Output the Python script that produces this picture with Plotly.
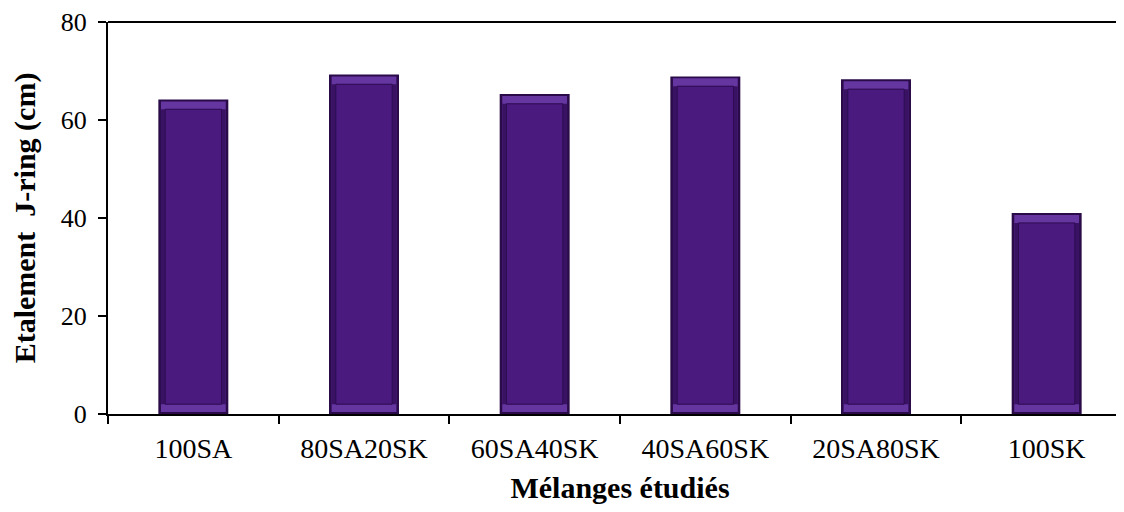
import plotly.graph_objects as go

categories = ["100SA", "80SA20SK", "60SA40SK", "40SA60SK", "20SA80SK", "100SK"]
values = [64.2, 69.3, 65.3, 68.9, 68.3, 41.0]

# bevel insets (in data units) used to layer the 3D-like bar look
edge = 0.4
bevel = 2.0
light_base = [edge for _ in values]
light_h = [v - 2 * edge for v in values]
side_base = [bevel for _ in values]
side_h = [v - 2 * bevel for v in values]

fig = go.Figure()
fig.add_trace(go.Bar(x=categories, y=values, width=0.41,
                     marker=dict(color="#2a0a48", line=dict(width=0)),
                     hoverinfo="skip", showlegend=False))
fig.add_trace(go.Bar(x=categories, y=light_h, base=light_base, width=0.38,
                     marker=dict(color="#6536a0", line=dict(width=0)),
                     hoverinfo="skip", showlegend=False))
fig.add_trace(go.Bar(x=categories, y=side_h, base=side_base, width=0.38,
                     marker=dict(color="#3a1264", line=dict(width=0)),
                     hoverinfo="skip", showlegend=False))
fig.add_trace(go.Bar(x=categories, y=side_h, base=side_base, width=0.33,
                     marker=dict(color="#4a1a7e", line=dict(width=1, color="#2e0c52")),
                     showlegend=False))

serif = "Liberation Serif, Times New Roman, serif"
fig.update_layout(
    barmode="overlay",
    width=1124, height=512,
    margin=dict(l=100, r=0, t=14, b=106, autoexpand=False),
    plot_bgcolor="white", paper_bgcolor="white",
    font=dict(family=serif, size=26, color="black"),
    xaxis=dict(showline=True, linecolor="black", linewidth=2, mirror=False,
               ticks="outside", tickson="boundaries", ticklen=8, tickwidth=1.5, tickcolor="black",
               ticklabelstandoff=8,
               title=dict(text="<b>Mélanges étudiés</b>", font=dict(size=30, family=serif), standoff=14),
               tickfont=dict(size=28, family=serif)),
    yaxis=dict(range=[0, 80], tickvals=[0, 20, 40, 60, 80], showline=True, linecolor="black", linewidth=2,
               ticks="outside", ticklen=8, tickwidth=1.5, tickcolor="black", showgrid=False, zeroline=False,
               ticklabeloverflow="allow", ticklabelstandoff=6,
               title=dict(text="<b>Etalement  J-ring (cm)</b>", font=dict(size=30, family=serif), standoff=18),
               tickfont=dict(size=26, family=serif)),
    shapes=[dict(type="line", xref="paper", yref="paper", x0=0, x1=1, y0=1, y1=1,
                 line=dict(color="black", width=2))],
)
fig.write_html("out.html")
